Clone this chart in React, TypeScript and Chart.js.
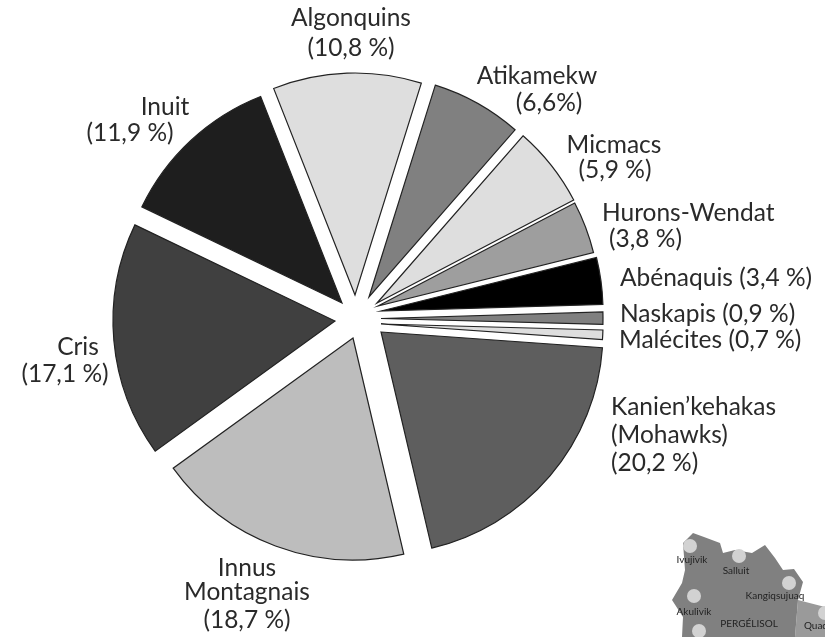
import React, { useEffect, useRef } from "react";
import { Chart, ArcElement, registerables } from "chart.js";

Chart.register(...registerables);

const nations = ["Algonquins", "Atikamekw", "Micmacs", "Hurons-Wendat", "Abénaquis", "Naskapis", "Malécites", "Kanien’kehakas (Mohawks)", "Innus Montagnais", "Cris", "Inuit"];
const shares = [10.8, 6.6, 5.9, 3.8, 3.4, 0.9, 0.7, 20.2, 18.7, 17.1, 11.9];
const colours = ["#dedede", "#808080", "#dedede", "#9e9e9e", "#000000", "#808080", "#dedede", "#5e5e5e", "#bdbdbd", "#404040", "#1e1e1e"];
const explodeX = [-3, 11, 19, 20, 23, 23, 23, 23, -5, -23, -16];
const explodeY = [-25, -23, -17, -14, -9, -1.5, 4, 12, 18, 1, -17];

const RADIUS = 222;
const CENTRE_X = 358;
const CENTRE_Y = 320;
const FONT = "Lato";
const S = " ";

// Wedge drawn at its exploded position, with the angles the controller computed.
(ArcElement.prototype as any).draw = function (ctx: CanvasRenderingContext2D) {
  const { x, y, startAngle, endAngle, outerRadius } = this;
  const o = this.options;
  const px = x + (this.dx || 0);
  const py = y + (this.dy || 0);
  ctx.save();
  ctx.beginPath();
  ctx.moveTo(px, py);
  ctx.arc(px, py, outerRadius, startAngle, endAngle);
  ctx.closePath();
  ctx.fillStyle = o.backgroundColor;
  ctx.fill();
  ctx.lineJoin = "miter";
  ctx.strokeStyle = o.borderColor;
  ctx.lineWidth = o.borderWidth;
  ctx.stroke();
  ctx.restore();
};

const labels: [string, number, number, CanvasTextAlign][] = [
  ["Algonquins", 351, 26, "center"], [`(10,8${S}%)`, 351, 56, "center"],
  ["Atikamekw", 537, 84, "center"], ["(6,6%)", 549, 111, "center"],
  ["Micmacs", 614, 153, "center"], [`(5,9${S}%)`, 615, 178, "center"],
  ["Hurons-Wendat", 602, 221, "left"], [`(3,8${S}%)`, 609, 247, "left"],
  [`Abénaquis (3,4${S}%)`, 620, 286, "left"],
  [`Naskapis (0,9${S}%)`, 620, 322, "left"],
  [`Malécites (0,7${S}%)`, 619, 348, "left"],
  ["Kanien’kehakas", 611, 415, "left"], ["(Mohawks)", 611, 443, "left"], [`(20,2${S}%)`, 611, 471, "left"],
  ["Innus", 247, 576, "center"], ["Montagnais", 247, 600, "center"], [`(18,7${S}%)`, 247, 628, "center"],
  ["Cris", 78, 355, "center"], [`(17,1${S}%)`, 65, 382, "center"],
  ["Inuit", 165, 115, "center"], [`(11,9${S}%)`, 130, 141, "center"],
];

const mapLand: [number, number][] = [[693, 533], [704, 537], [720, 543], [723, 553], [735, 550], [752, 553], [765, 545], [775, 558], [783, 570], [794, 569], [803, 582], [798, 600], [795, 637], [682, 637], [683, 617], [672, 600], [682, 583], [685, 570], [683, 543]];
const mapEast: [number, number][] = [[798, 600], [825, 607], [825, 637], [795, 637]];
const mapTowns: [number, number][] = [[690, 546], [739, 556], [789, 583], [694, 596], [699, 631], [825, 613]];
const mapNames: [string, number, number][] = [["Ivujivik", 692, 560], ["Salluit", 736, 571], ["Kangiqsujuaq", 775, 596], ["Akulivik", 694, 612], ["PERGÉLISOL", 749, 624], ["Quaqtaq", 823, 626]];

const poly = (ctx: CanvasRenderingContext2D, pts: [number, number][], fill: string) => {
  ctx.beginPath();
  pts.forEach(([x, y], i) => (i ? ctx.lineTo(x, y) : ctx.moveTo(x, y)));
  ctx.closePath();
  ctx.fillStyle = fill;
  ctx.fill();
};

const explodePlugin = {
  id: "explodePlugin",
  beforeDatasetsDraw(chart: any) {
    chart.getDatasetMeta(0).data.forEach((arc: any, i: number) => {
      arc.dx = explodeX[i];
      arc.dy = explodeY[i];
    });
  },
};

const annotate = {
  id: "annotate",
  afterDraw(chart: any) {
    const ctx: CanvasRenderingContext2D = chart.ctx;
    ctx.save();
    poly(ctx, mapEast, "#9a9a9a");
    poly(ctx, mapLand, "#808080");
    ctx.fillStyle = "#d2d2d2";
    mapTowns.forEach(([x, y]) => {
      ctx.beginPath();
      ctx.arc(x, y, 7, 0, Math.PI * 2);
      ctx.fill();
    });
    ctx.fillStyle = "#222";
    ctx.textAlign = "center";
    ctx.textBaseline = "middle";
    ctx.font = `10px ${FONT}`;
    mapNames.forEach(([t, x, y]) => ctx.fillText(t, x, y));
    ctx.fillStyle = "#2a2a2a";
    ctx.textBaseline = "alphabetic";
    ctx.font = `24.5px ${FONT}`;
    labels.forEach(([t, x, y, a]) => {
      ctx.textAlign = a;
      ctx.fillText(t, x, y);
    });
    ctx.restore();
  },
};

export default function App() {
  const ref = useRef<HTMLCanvasElement>(null);
  useEffect(() => {
    const chart = new Chart(ref.current!, {
      type: "pie",
      data: {
        labels: nations,
        datasets: [{
          data: shares,
          backgroundColor: colours,
          borderColor: "#222222",
          borderWidth: 1.2,
        }],
      },
      options: {
        animation: false,
        responsive: false,
        rotation: -21.5,
        radius: RADIUS,
        layout: { padding: { left: 0, right: 825 - 2 * CENTRE_X, top: 2 * CENTRE_Y - 637, bottom: 0 } },
        plugins: { legend: { display: false }, tooltip: { enabled: false }, title: { display: false } },
      },
      plugins: [explodePlugin, annotate],
    } as any);
    return () => chart.destroy();
  }, []);
  return <canvas ref={ref} width={825} height={637} style={{ position: "fixed", left: 0, top: 0, display: "block" }} />;
}
